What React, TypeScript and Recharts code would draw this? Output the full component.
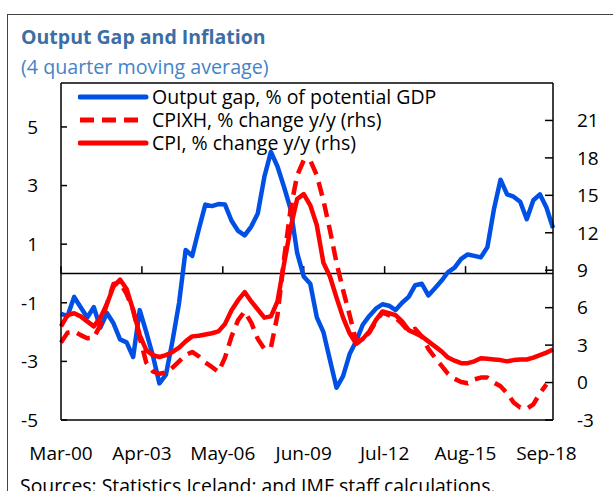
import React from 'react';
import { ComposedChart, Line, XAxis, YAxis, ReferenceLine, Legend } from 'recharts';

// quarterly, Mar-00 .. Dec-18
const outputGap = [
  -1.38, -1.45, -0.8, -1.15, -1.5, -1.15, -1.85, -1.35, -1.7, -2.25,
  -2.35, -2.85, -1.25, -2.0, -2.8, -3.75, -3.45, -2.3, -1.0, 0.8,
  0.6, 1.5, 2.35, 2.3, 2.37, 2.35, 1.8, 1.45, 1.3, 1.6,
  2.05, 3.3, 4.15, 3.65, 2.95, 2.2, 0.7, -0.1, -0.35, -1.5,
  -2.0, -2.95, -3.9, -3.5, -2.75, -2.3, -1.75, -1.45, -1.2, -1.05,
  -1.1, -1.25, -1.0, -0.8, -0.4, -0.35, -0.75, -0.5, -0.25, 0.05,
  0.2, 0.5, 0.65, 0.6, 0.55, 0.9, 2.2, 3.2, 2.7, 2.62,
  2.45, 1.85, 2.5, 2.7, 2.25, 1.55,
];

const cpixh = [
  3.2, 4.0, 4.1, 3.8, 3.55, 3.6, 4.6, 6.3, 7.9, 8.0,
  7.1, 5.8, 3.6, 1.6, 0.9, 0.7, 0.8, 1.2, 1.7, 2.2,
  2.45, 2.1, 1.6, 1.25, 0.85, 2.0, 3.7, 5.0, 5.7, 4.8,
  3.5, 2.7, 2.8, 5.4, 9.9, 13.9, 16.6, 17.8, 17.8, 16.6,
  14.6, 12.2, 9.6, 7.4, 5.4, 3.3, 3.5, 4.0, 4.9, 5.6,
  5.4, 5.2, 4.7, 4.1, 4.3, 3.7, 2.7, 2.0, 1.35, 0.7,
  0.3, 0.05, -0.05, 0.25, 0.4, 0.4, 0.0, -0.3, -0.85, -1.6,
  -2.0, -2.1, -1.75, -0.87, -0.15, null,
];

const cpi = [
  4.5, 5.4, 5.55, 5.3, 4.9, 4.5, 5.2, 6.3, 7.7, 8.25,
  7.5, 5.8, 3.8, 2.6, 2.2, 2.05, 2.2, 2.45, 2.8, 3.3,
  3.7, 3.75, 3.85, 3.95, 4.1, 4.7, 5.8, 6.6, 7.25, 6.5,
  5.85, 5.2, 5.3, 6.5, 9.5, 12.4, 14.7, 15.1, 14.2, 12.6,
  9.6, 8.5, 6.8, 5.2, 3.95, 3.1, 3.5, 4.1, 5.0, 5.7,
  5.55, 5.4, 4.9, 4.2, 3.95, 3.7, 3.3, 2.9, 2.5, 2.0,
  1.75, 1.55, 1.55, 1.7, 1.95, 1.9, 1.85, 1.8, 1.7, 1.8,
  1.85, 1.85, 2.0, 2.2, 2.4, 2.65,
];

// x axis is in months since Mar-00, ticks every 37 months
const xTickMonths = [0, 37, 74, 111, 148, 185, 222];
const xTickLabels = ['Mar-00', 'Apr-03', 'May-06', 'Jun-09', 'Jul-12', 'Aug-15', 'Sep-18'];
const leftTicks = [-5, -3, -1, 1, 3, 5];
const rightTicks = [-3, 0, 3, 6, 9, 12, 15, 18, 21];

const BLUE = '#0050e6';
const RED = '#ff0000';
const FONT = '"Open Sans", "Noto Sans", sans-serif';

const legendItems = [
  { name: 'Output gap, % of potential GDP', color: BLUE, dashed: false },
  { name: 'CPIXH, % change y/y (rhs)', color: RED, dashed: true },
  { name: 'CPI, % change y/y (rhs)', color: RED, dashed: false },
];

const chartData = outputGap.map((gap, i) => ({
  month: i * 3,
  gap,
  cpixh: cpixh[i],
  cpi: cpi[i],
}));

const LegendBox = () => (
  <div style={{ fontFamily: FONT, fontSize: 19.5, color: '#000' }}>
    {legendItems.map((item) => (
      <div key={item.name} style={{ display: 'flex', alignItems: 'center', height: 23.3 }}>
        <svg width={72} height={10} style={{ marginRight: 2 }}>
          <line
            x1={2}
            y1={5}
            x2={68}
            y2={5}
            stroke={item.color}
            strokeWidth={5}
            strokeDasharray={item.dashed ? '14 8' : undefined}
            strokeLinecap={item.dashed ? 'butt' : 'round'}
          />
        </svg>
        <span style={{ lineHeight: 1 }}>{item.name}</span>
      </div>
    ))}
  </div>
);

const App: React.FC = () => {
  const tickStyle = { fill: '#000', fontSize: 19, fontFamily: FONT };
  return (
    <div
      style={{
        position: 'absolute',
        left: 0,
        top: 0,
        width: 613,
        height: 491,
        overflow: 'hidden',
        background: '#fff',
        fontFamily: FONT,
      }}
    >
      {/* outer frame */}
      <div
        style={{
          position: 'absolute',
          left: 7,
          top: 14,
          width: 640,
          height: 520,
          borderLeft: '1.5px solid #444',
          borderTop: '1.5px solid #444',
        }}
      />
      <div
        style={{
          position: 'absolute',
          left: 21,
          top: 27,
          fontSize: 19.5,
          lineHeight: 1,
          fontWeight: 700,
          color: '#3b6ea5',
          whiteSpace: 'nowrap',
        }}
      >
        Output Gap and Inflation
      </div>
      <div
        style={{
          position: 'absolute',
          left: 21,
          top: 57,
          fontSize: 19.7,
          lineHeight: 1,
          color: '#4384c6',
          whiteSpace: 'nowrap',
        }}
      >
        (4 quarter moving average)
      </div>

      <div style={{ position: 'absolute', left: 0, top: 0 }}>
        <ComposedChart
          width={613}
          height={491}
          data={chartData}
          margin={{ top: 83, right: 0, bottom: 31, left: 0 }}
        >
          <XAxis
            dataKey="month"
            type="number"
            domain={[0, 225]}
            ticks={xTickMonths}
            interval={0}
            tickFormatter={(v: number) => xTickLabels[xTickMonths.indexOf(v)]}
            tick={tickStyle}
            tickLine={false}
            tickSize={0}
            tickMargin={27}
            height={40}
            axisLine={{ stroke: '#000', strokeWidth: 1.5 }}
          />
          <YAxis
            yAxisId="left"
            domain={[-5, 6.5]}
            ticks={leftTicks}
            interval={0}
            allowDataOverflow
            width={61}
            tick={tickStyle}
            tickSize={-6}
            tickMargin={29}
            tickLine={{ stroke: '#000', strokeWidth: 1.5 }}
            axisLine={{ stroke: '#000', strokeWidth: 1.5 }}
          />
          <YAxis
            yAxisId="right"
            orientation="right"
            domain={[-3, 24]}
            ticks={rightTicks}
            interval={0}
            allowDataOverflow
            width={60}
            tick={{ ...tickStyle, textAnchor: 'start' }}
            tickSize={-8}
            tickMargin={32}
            tickLine={{ stroke: '#000', strokeWidth: 1.5 }}
            axisLine={{ stroke: '#000', strokeWidth: 1.5 }}
          />
          <ReferenceLine yAxisId="left" y={6.5} stroke="#000" strokeWidth={1.5} ifOverflow="visible" />
          <ReferenceLine yAxisId="left" y={0} stroke="#000" strokeWidth={1.5} />
          {xTickMonths.map((m) => (
            <ReferenceLine
              key={m}
              yAxisId="left"
              segment={[{ x: m, y: 0 }, { x: m, y: 0.25 }]}
              stroke="#000"
              strokeWidth={1.5}
            />
          ))}
          <Legend
            layout="vertical"
            align="center"
            verticalAlign="middle"
            content={() => <LegendBox />}
            wrapperStyle={{ left: 78, top: 85, width: 420, height: 72 }}
          />
          <Line
            yAxisId="left"
            dataKey="gap"
            name="Output gap, % of potential GDP"
            stroke={BLUE}
            strokeWidth={4.5}
            dot={false}
            strokeLinejoin="round"
            isAnimationActive={false}
          />
          <Line
            yAxisId="right"
            dataKey="cpixh"
            name="CPIXH, % change y/y (rhs)"
            stroke={RED}
            strokeWidth={4.5}
            strokeDasharray="14 8"
            dot={false}
            strokeLinejoin="round"
            isAnimationActive={false}
          />
          <Line
            yAxisId="right"
            dataKey="cpi"
            name="CPI, % change y/y (rhs)"
            stroke={RED}
            strokeWidth={4.5}
            dot={false}
            strokeLinejoin="round"
            isAnimationActive={false}
          />
        </ComposedChart>
      </div>

      <div
        style={{
          position: 'absolute',
          left: 20,
          top: 476,
          fontSize: 19.4,
          lineHeight: 1,
          color: '#000',
          whiteSpace: 'nowrap',
        }}
      >
        Sources: Statistics Iceland; and IMF staff calculations.
      </div>
    </div>
  );
};

export default App;
